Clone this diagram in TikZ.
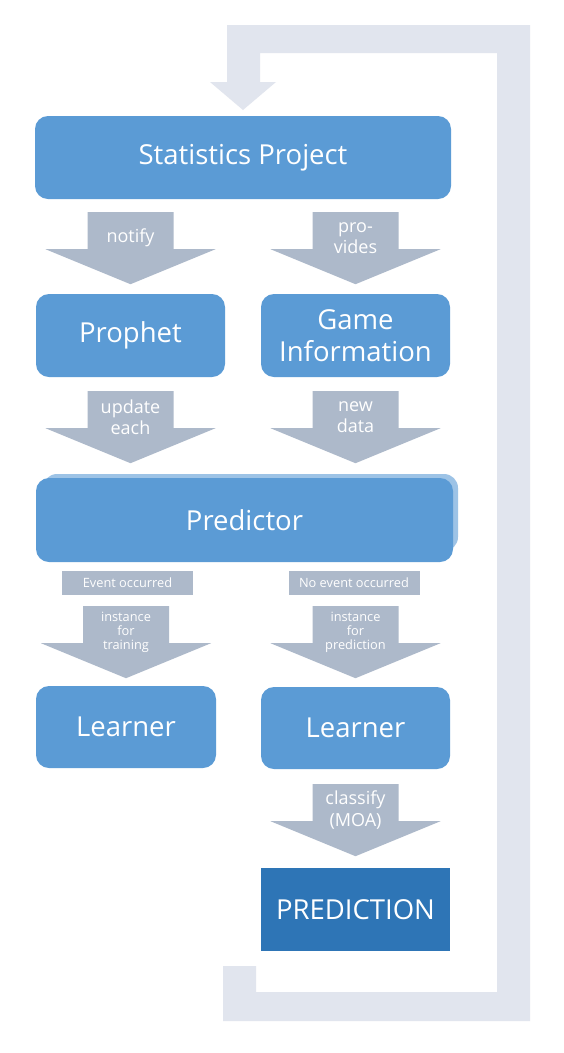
\documentclass[tikz,border=0pt]{standalone}
\usepackage{fontspec}
\setmainfont{Open Sans}
\usetikzlibrary{calc}
\definecolor{boxblue}{HTML}{5B9BD5}
\definecolor{backblue}{HTML}{9DC3E6}
\definecolor{darkblue}{HTML}{2E75B6}
\definecolor{arrowgray}{HTML}{ADB9CA}
\definecolor{loopgray}{HTML}{E1E5EE}

\begin{document}
\begin{tikzpicture}[x=1pt,y=-1pt]
\tikzset{
  box/.style={fill=boxblue,rounded corners=13pt,text=white,align=center,inner sep=0pt,
    font=\fontsize{27.5}{31.7}\selectfont},
  tag/.style={fill=arrowgray,text=white,inner sep=0pt,minimum width=131pt,minimum height=24pt,
    font=\fontsize{12.8}{13.8}\selectfont},
  biglabel/.style={text=white,align=center,inner sep=0pt,font=\fontsize{18}{21.5}\selectfont},
  smalllabel/.style={text=white,align=center,inner sep=0pt,font=\fontsize{12.8}{13.8}\selectfont},
  pics/downarrow/.style 2 args={code={
    \fill[arrowgray] (-43,0) -- (-43,37) -- (-85,37) -- (0,72) -- (85,37) -- (43,37) -- (43,0) -- cycle;
    \node[#1] (-text) at (0,26) {#2};
  }}
}
\fill[white] (0,0) rectangle (564,1053);
% loop back to the top
\fill[loopgray] (243,110) -- (276,82) -- (260,82) -- (260,53) -- (497,53) -- (497,992) -- (256,992)
  -- (256,966) -- (223,966) -- (223,1021) -- (530,1021) -- (530,25) -- (227,25) -- (227,82)
  -- (210,82) -- cycle;

\node[box,minimum width=416pt,minimum height=83pt] (stat) at (243,157.5) {Statistics Project};
\node[box,minimum width=189pt,minimum height=83pt] (prophet) at (130.5,335.5) {Prophet};
\node[box,minimum width=189pt,minimum height=83pt] (game) at (355.5,335.5) {Game\\Information};
\fill[backblue,rounded corners=14pt] (43,474) rectangle (458,551);
\node[box,minimum width=417pt,minimum height=84pt] (pred) at (244.5,520) {Predictor};
\node[tag] (evt) at (127.5,583) {Event occurred};
\node[tag] (noevt) at (354,583) {No event occurred};
\node[box,minimum width=180pt,minimum height=82pt] (learnA) at (126,727) {Learner};
\node[box,minimum width=189pt,minimum height=82pt] (learnB) at (355.5,728) {Learner};
\node[box,sharp corners,fill=darkblue,minimum width=189pt,minimum height=83pt] (result) at (355.5,909.5) {PREDICTION};

% block arrows
\pic (notify) at ($(stat.south -| prophet)+(0,13)$) {downarrow={biglabel}{notify}};
\pic (provides) at ($(stat.south -| game)+(0,13)$) {downarrow={biglabel}{pro-\\vides}};
\pic (update) at ($(prophet.south)+(0,14)$) {downarrow={biglabel}{update\\each}};
\pic (newdata) at ($(game.south)+(0,14)$) {downarrow={biglabel}{new\\data}};
\pic (train) at ($(evt.south -| learnA)+(0,11)$) {downarrow={smalllabel}{instance\\for\\training}};
\pic (predict) at ($(noevt.south -| learnB)+(0,11)$) {downarrow={smalllabel}{instance\\for\\prediction}};
\pic (classify) at ($(learnB.south)+(0,15)$) {downarrow={biglabel}{classify\\(MOA)}};
\end{tikzpicture}
\end{document}
